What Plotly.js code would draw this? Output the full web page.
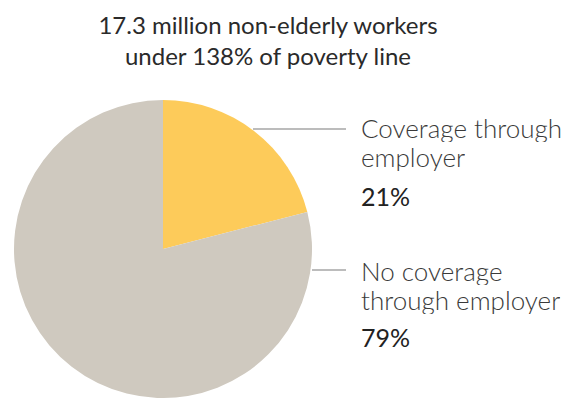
<!DOCTYPE html>
<html>
<head>
<meta charset="utf-8">
<script src="https://cdn.plot.ly/plotly-3.0.1.min.js"></script>
<style>html,body{margin:0;padding:0;background:#fff;overflow:hidden}</style>
</head>
<body>
<div id="chart" style="width:569px;height:398px"></div>
<script>
const titleText = "17.3 million non-elderly workers<br>under 138% of poverty line";
const categories = ["Coverage through<br>employer", "No coverage<br>through employer"];
const values = [21, 79];
const colors = ["#FDCB5A", "#CFC9BF"];

const W = 569, H = 398;
const font = "Lato, 'Open Sans', sans-serif";

// label block positions (pixels, baselines)
const labelX = 359;
const labelBase = [[137, 166], [280, 309]];
const pctBase = [205, 346];
const lineY = [129, 270];
const LS = 26, PS = 25;

const annotations = [];
const shapes = [];
categories.forEach((c, i) => {
  c.split("<br>").forEach((ln, j) => {
    annotations.push({
      text: ln, xref: "paper", yref: "paper", x: labelX / W,
      y: 1 - (labelBase[i][j] - 0.36 * LS) / H,
      xanchor: "left", yanchor: "middle", align: "left", showarrow: false,
      height: 28, valign: "middle",
      font: {family: font, size: LS, color: "#3a3a3a", weight: 300}
    });
  });
  annotations.push({
    text: values[i] + "%", xref: "paper", yref: "paper", x: labelX / W,
    y: 1 - (pctBase[i] - 0.36 * PS) / H,
    xanchor: "left", yanchor: "middle", align: "left", showarrow: false,
    font: {family: font, size: PS, color: "#222222", weight: 400}
  });
});
shapes.push({type: "line", xref: "paper", yref: "paper", x0: 253 / W, x1: 346 / W,
  y0: 1 - lineY[0] / H, y1: 1 - lineY[0] / H, line: {color: "#7a7a7a", width: 1.2}});
shapes.push({type: "line", xref: "paper", yref: "paper", x0: 312 / W, x1: 346 / W,
  y0: 1 - lineY[1] / H, y1: 1 - lineY[1] / H, line: {color: "#7a7a7a", width: 1.2}});

const data = [{
  type: "pie",
  labels: categories,
  values: values,
  sort: false,
  direction: "clockwise",
  rotation: 0,
  marker: {colors: colors, line: {width: 0}},
  textinfo: "none",
  hoverinfo: "none",
  showlegend: false,
  domain: {x: [14 / W, 312 / W], y: [0, 298 / H]}
}];

const layout = {
  width: W, height: H,
  margin: {l: 0, r: 0, t: 0, b: 0},
  paper_bgcolor: "#ffffff",
  title: {
    text: titleText, x: 268 / W, xanchor: "center", xref: "paper",
    y: 1 - 34 / H, yref: "container", yanchor: "top",
    font: {family: font, size: 24, color: "#2a2a2a", weight: 400}
  },
  annotations: annotations,
  shapes: shapes
};

Plotly.newPlot("chart", data, layout, {displayModeBar: false, staticPlot: true});
</script>
</body>
</html>
